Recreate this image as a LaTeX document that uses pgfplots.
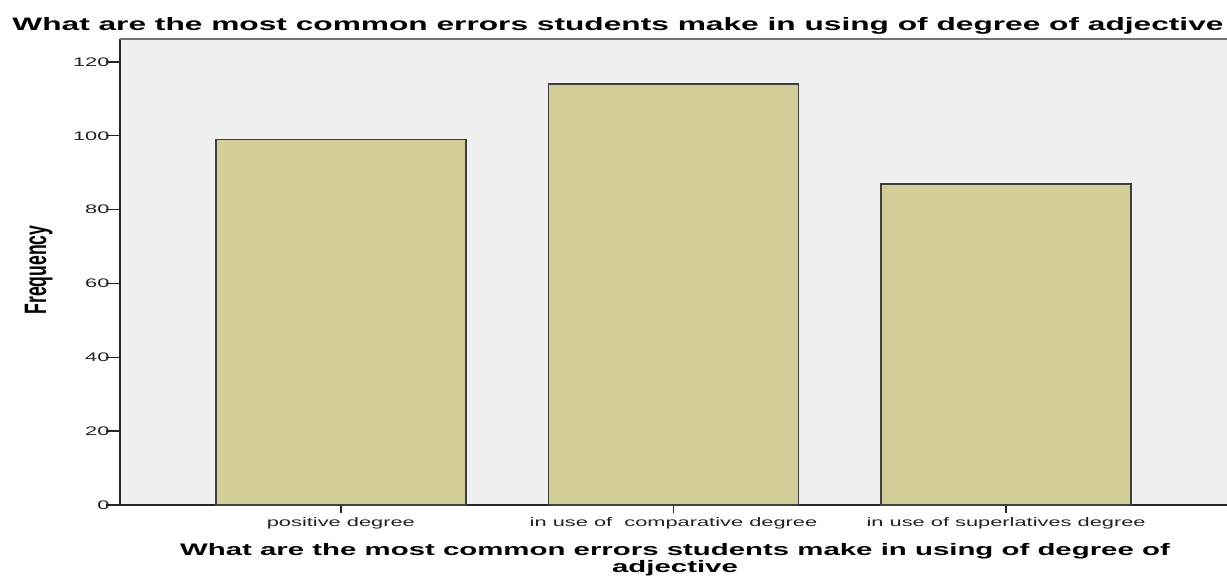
\documentclass[border=0pt]{standalone}
\usepackage{fontspec}
\setmainfont[FakeStretch=1.76]{Liberation Sans}
\newfontfamily\plainfont{Liberation Sans}
\usepackage{pgfplots}
\pgfplotsset{compat=1.18}
\definecolor{barfill}{RGB}{211,206,151}
\definecolor{plotbg}{RGB}{240,240,240}
\definecolor{ticktext}{RGB}{34,34,34}

\begin{document}
\begin{tikzpicture}
  \path[use as bounding box] (0pt,0pt) rectangle (1227pt,576pt);
  \begin{axis}[
      at={(120pt,71pt)}, anchor=south west,
      scale only axis, width=1107pt, height=466pt,
      xmin=-0.664, xmax=2.664,
      ymin=0, ymax=126.2,
      axis x line*=bottom, axis y line*=left,
      axis line style={-, line width=1.4pt, black!85},
      axis background/.style={fill=plotbg},
      ybar, bar width=0.751,
      xtick={0,1,2},
      xticklabels={positive degree, in use of~ comparative degree, in use of superlatives degree},
      ytick={0,20,...,120},
      tick align=outside,
      major tick length=8pt,
      tick style={line width=1.3pt, black!85},
      y tick style={/pgfplots/major tick length=14pt},
      /pgf/number format/assume math mode=true,
      ticklabel style={font=\fontsize{12.4}{14}\selectfont, text=ticktext},
      xticklabel style={yshift=-1pt},
      yticklabel style={xshift=1pt},
    ]
    \draw[black!55, line width=1.2pt] (rel axis cs:0,1) -- (rel axis cs:1,1);
    \addplot[fill=barfill, draw=black!75, line width=1.7pt]
      coordinates {(0,99) (1,114) (2,87)};
  \end{axis}
  \node[anchor=base, font=\fontsize{18}{20}\selectfont\bfseries] at (618pt,545pt)
    {What are the most common errors students make in using of degree of adjective};
  \node[anchor=base, font=\fontsize{16.7}{18}\selectfont\bfseries] at (675pt,20pt)
    {What are the most common errors students make in using of degree of};
  \node[anchor=base, font=\fontsize{16.7}{18}\selectfont\bfseries] at (675pt,3pt)
    {adjective};
  \node[rotate=90, anchor=base] at (46pt,306pt)
    {\scalebox{1}[1.76]{\plainfont\fontsize{17.6}{20}\selectfont\bfseries Frequency}};
\end{tikzpicture}
\end{document}
